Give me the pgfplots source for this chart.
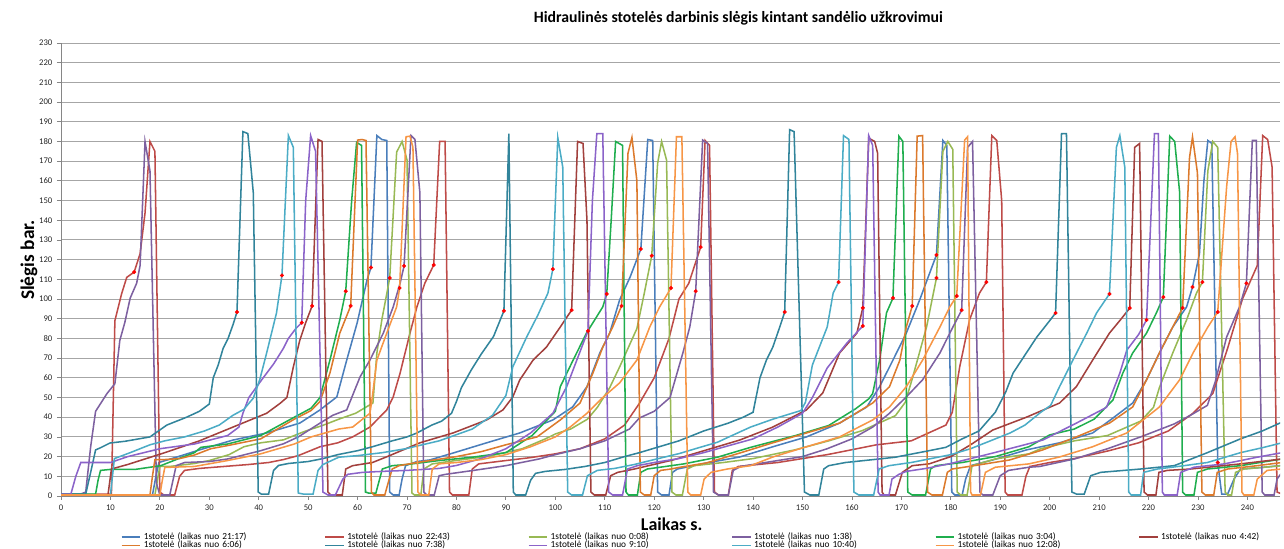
\documentclass[border=0pt]{standalone}
\usepackage{fontspec}
\setmainfont{Carlito}
\usepackage{pgfplots}
\pgfplotsset{compat=1.18}
\definecolor{sA}{HTML}{4A7EBB}
\definecolor{sB}{HTML}{BE4B48}
\definecolor{sC}{HTML}{98B954}
\definecolor{sD}{HTML}{7D60A0}
\definecolor{sE}{HTML}{1FAE4E}
\definecolor{sF}{HTML}{A2403D}
\definecolor{sG}{HTML}{DC7A2C}
\definecolor{sH}{HTML}{31849B}
\definecolor{sI}{HTML}{8B63C9}
\definecolor{sJ}{HTML}{4BACC6}
\definecolor{sK}{HTML}{F79646}
\definecolor{gridc}{HTML}{A6A6A6}
\definecolor{axc}{HTML}{868686}
\begin{document}
\begin{tikzpicture}
\path[use as bounding box] (-45.75pt,-39.75pt) rectangle (917.25pt,372pt);
\begin{axis}[
  at={(0,0)}, anchor=south west,
  scale only axis, width=914.25pt, height=339.75pt,
  xmin=0, xmax=246.6, ymin=0, ymax=230,
  xtick={0,10,...,240}, ytick={0,10,...,230},
  axis x line=bottom, axis y line=left,
  axis line style={-, draw=axc, line width=0.7pt},
  ymajorgrids, grid style={draw=gridc, line width=0.7pt},
  tick align=outside, major tick length=3pt,
  tick style={draw=axc, line width=0.6pt},
  ticklabel style={font=\fontsize{6.5}{7}\selectfont, text=black!85},
  /pgf/number format/assume math mode=true,
  legend columns=6,
  legend cell align=left,
  legend image code/.code={\draw[#1, line width=1.1pt] (0pt,0pt) -- (14pt,0pt);},
  legend style={at={(0.049,-0.079)}, anchor=north west, draw=none, fill=none,
    inner sep=0pt, font=\fontsize{7}{7}\selectfont, row sep=-1.2pt,
    nodes={text width=135pt, inner sep=0.5pt, text height=5pt, text depth=1.5pt},
    /tikz/every odd column/.append style={column sep=1.5pt}},
  legend entries={1stotelė (laikas nuo 21:17),1stotelė (laikas nuo 22:43),1stotelė (laikas nuo 0:08),1stotelė (laikas nuo 1:38),1stotelė (laikas nuo 3:04),1stotelė (laikas nuo 4:42),1stotelė (laikas nuo 6:06),1stotelė (laikas nuo 7:38),1stotelė (laikas nuo 9:10),1stotelė (laikas nuo 10:40),1stotelė (laikas nuo 12:08)},
  every axis plot/.append style={line width=1.15pt, mark=none},
]
% 21:17 blue
\addplot[sA] coordinates {(0,0.5)(18.5,0.5)(19.2,10)(19.8,17)(25,21)(28,23.4)(34.8,28.4)(41.6,32)(48.3,37)(52.4,43.7)(55.8,50.3)(57.8,69)(59.9,87.8)(61.9,109.6)(62.7,116)(63.9,183)(64.9,181)(65.9,180.5)(66.5,2)(67.2,0.5)(68.4,0.5)(69,8.6)(69.7,15.4)(72,17.5)(74.6,18.3)(79.3,21.8)(86.1,27)(92.8,32)(99.5,38.6)(103.5,45.2)(106.4,55.5)(109,72.6)(111,82.7)(113,99.5)(115.1,111)(117.3,125.4)(118.7,181)(119.7,180.5)(120.7,2)(121.5,0.5)(123,0.5)(123.7,12)(124.7,13.7)(130.6,16.8)(137.3,19.8)(144,25)(150.8,30)(157.5,37)(163,45.2)(165.6,55.5)(168.3,69)(171,82.7)(173.7,99.5)(175.7,113)(177.1,122.4)(178.4,180.5)(179.2,178)(180.2,2)(180.8,0.5)(182.3,0.5)(183,8.6)(184,15.4)(188.5,18.3)(195.3,23.4)(202,27)(208.7,32)(212.5,39)(216.8,47.2)(219.6,59)(222.2,72.6)(224.9,85.8)(227.7,96)(228.9,106.1)(230.3,123)(231.2,160)(232,180.5)(232.8,179)(234,17)(234.8,1)(236,1)(237.3,8.6)(238.6,13.7)(243,14.5)(247,15.5)};
% 22:43 red
\addplot[sB] coordinates {(0,0.5)(9.5,1)(10.2,1)(10.9,89)(12.3,103)(13.3,111)(14.8,113.7)(16,123)(17,143.7)(18,180)(19,175)(20,2)(20.8,0.5)(23,0.5)(24,10)(25,13)(28,14)(33,15)(38,16)(42,17)(45,18.5)(48,20.5)(52.4,25)(56,27)(59,30)(62.5,35)(65.9,43.7)(67.2,50.3)(68.6,62.4)(69.6,72.6)(70.6,82.7)(72,96)(73.6,108)(75.4,117.3)(76.6,180)(77.7,180)(78.6,2)(79.2,0.5)(82.5,0.5)(83.2,13.7)(84.5,16.3)(90,18)(95,19.5)(100,21.4)(105,24)(110,29)(114,36)(117,47)(120,60)(123,80)(125,100)(127,108)(129.4,126.4)(130.3,180.5)(131.2,178)(132.2,2)(133,0.5)(135,0.5)(135.8,13)(137,15)(145,17)(150,19)(155,21)(160,23.5)(165,26)(172,28)(179,36)(180.3,42.5)(181.8,65.5)(183.8,89.4)(185.8,103)(187.2,108.6)(188.3,183)(189.3,180.5)(190.3,150)(191,2)(191.5,0.5)(194.4,0.5)(195.2,10)(196,15)(200,17)(205,19)(212,23)(218,27)(224,33)(229,42)(233,52)(236,75)(239,100)(242,117)(243.1,183)(244.1,181)(245,167)(246,2)(247,1)};
% 0:08 light green
\addplot[sC] coordinates {(0,0.5)(19,0.5)(19.5,8)(20,15)(22,15)(27,16.5)(30,18)(34,21)(37,25)(40.4,27)(45,28.5)(49.5,33)(52.9,35.8)(56.2,39)(59.6,42)(63.1,47.2)(63.9,72.6)(64.9,89.4)(66.5,110.7)(67.9,174.6)(69,180)(70,170.6)(71,1.5)(71.5,0.5)(72.8,0.5)(73.4,13.7)(75.1,16.3)(79.8,18)(86.6,20.2)(93.3,24)(98,29)(100,31.5)(103.1,34)(106.5,39)(108.5,45)(111,55)(113,65.5)(116.5,85)(118,103)(119.5,122)(120.7,169)(121.5,180)(122.5,170.6)(123.6,2)(124.4,0.5)(125.7,0.5)(126.7,13.7)(128.1,15.4)(134,17)(140,19)(148.6,23.5)(155.3,28)(162.1,33.2)(168.8,40.8)(170.8,47.6)(172.2,59.5)(175.1,85.8)(177.1,110.7)(178.4,175)(179.4,180)(180.4,176)(181.3,2)(182,0.5)(183.3,0.5)(184.3,15.4)(189,18.8)(195.8,21.4)(198.2,24)(205,28)(211.7,30.7)(218.4,38)(221,45)(222.2,55)(224.9,72.6)(227.7,89.4)(229.7,103)(230.9,108.6)(232,165)(233,180)(234,177)(235.5,2)(236,0.5)(236.8,0.5)(237.6,12)(239.3,13.7)(247,15.4)};
% 1:38 purple
\addplot[sD] coordinates {(0,1)(4,1)(5,2)(6,25)(7,43)(9.3,52)(10.9,57)(11.9,79)(12.9,88)(14,100.5)(15.3,108)(16,117)(17,180)(18,165)(19.3,6.6)(20,0.5)(22,0.5)(23.3,15.4)(25,17)(30,17.5)(33.7,18.8)(40.4,23)(45,26.5)(48,30)(52.4,37)(55,41)(57.8,43.7)(60.5,60.5)(62.5,69)(65.2,82.7)(67.2,96)(68.6,108)(69.4,116.8)(70.8,183)(71.6,181)(72.6,154)(73.4,2)(74,0.5)(75.5,0.5)(76.5,10.3)(77.8,11)(83.2,12.9)(90,15.4)(96.7,18.8)(100,21)(105,24)(110,28)(115,34)(117,39.6)(120,43)(123.2,50)(125.8,72.6)(127.2,85.8)(128.4,104)(129.8,180.7)(130.8,179)(132,2)(133,0.5)(135,0.5)(136,13)(137.5,15)(140,16)(145,18)(150,20)(155,24)(160,29)(164.2,35)(167.6,42)(171,50.3)(174.3,59)(177.8,72.6)(179.8,82.7)(182.2,94.4)(183.4,177)(184.4,180)(185.9,2)(186.5,0.5)(188.5,0.5)(190,10.3)(191.7,13)(195.8,14.6)(198,15)(205,18.8)(211.7,24)(218.4,30)(225.2,36.6)(228.5,41)(231.9,46)(233.5,58)(235.8,80.7)(238.4,96)(239.8,108)(241,180.5)(241.8,180.5)(243,2)(243.5,0.5)(245.4,0.5)(246,8.6)(247,12)};
% 3:04 green
\addplot[sE] coordinates {(0,1)(7,1)(7.5,8)(8,13)(10,13.5)(15,13.5)(20.2,15.4)(23.6,18.8)(27,22)(28.3,24.7)(33.7,26.4)(40.4,30.7)(47.2,40)(50.6,44.6)(52.4,50)(54.4,69)(56.4,89.4)(57.6,104)(58.8,150)(59.8,179.5)(60.8,178)(61.6,2)(62.2,1.5)(63.7,1.5)(65,13.7)(67,15.4)(70,16)(76.5,18)(83.2,19.7)(90,22)(95.3,30.7)(100,43)(101,55.5)(103.6,69)(106.3,82.7)(109.6,96)(110.4,102.6)(111.3,140)(112.2,180)(113.6,178)(114.3,2)(114.8,0.5)(116.6,0.5)(117.3,12)(118.6,13.7)(126,16.3)(132.8,19.7)(139.5,24.7)(148.6,30.7)(155.3,35.8)(160.7,44.2)(163.4,49.3)(164.2,52)(165.6,69)(167,93)(168.3,100.5)(169.5,182.7)(170.3,180)(171.3,2)(172.2,0.5)(174.9,0.5)(175.9,13.7)(176.9,15.4)(182.3,17)(189,20)(195.8,25)(200,31)(205,34)(209,39)(212.8,48.7)(214.8,62.4)(216.8,72.6)(219.6,82.7)(221.6,93)(223,101)(224.3,182.7)(225.3,180)(226.3,154)(226.9,2)(227.5,0.5)(229.2,0.5)(229.9,12)(231.9,13.7)(238.6,15.4)(247,18.8)};
% 4:42 dark red
\addplot[sF] coordinates {(0,0.5)(9.5,0.5)(10.2,13.7)(13.5,16)(21,22)(28,28)(34.8,35)(41.6,42)(44.3,47)(45.7,50)(47,65.5)(48.3,79)(49.5,88)(50.8,96.5)(52,181)(52.8,180)(54,2)(54.6,0.5)(56.9,0.5)(57.6,13.7)(59,15.4)(63,17)(66,20)(72.6,27)(79.3,32)(86.1,38.6)(89.4,43.7)(91.4,50.3)(92.8,58.9)(95.5,69)(98.2,75.6)(101,85.8)(103.3,94.4)(104.5,180)(105.6,179)(106.4,140)(107.2,2)(107.9,0.5)(110.2,0.5)(111.2,10.3)(112.6,12)(116,13.7)(123.8,18.3)(130.6,23.4)(137.3,28.4)(144,35)(150.8,43.7)(154.1,52.3)(157.5,72.6)(161,82.7)(162.2,95.5)(163.4,181.7)(164.6,180)(165.2,174)(166.1,2)(166.5,0.5)(168.8,0.5)(170.2,12)(172.2,15.4)(175.6,16.3)(180,20)(184,26)(188.5,33.5)(195.3,40)(202,47.2)(205.4,55.5)(208.7,69)(212.1,82.7)(214.5,90)(216.2,95.4)(217.2,177)(218.2,179)(219.1,2)(219.8,0.5)(221.5,0.5)(222.1,12)(223.8,13)(228.5,13.7)(238.6,16.3)(247,18.8)};
% 6:06 dark orange
\addplot[sG] coordinates {(0,0.5)(18,0.5)(18.5,10)(19,18.5)(21,18.5)(24,19)(27,20.8)(30.3,24)(33.7,25.6)(40.4,29)(47.2,39)(50.6,43.4)(52.4,48)(54.4,62.4)(56.4,82.7)(58.6,96.5)(60,180.7)(60.9,181)(61.7,180.5)(62.8,2)(63.3,0.5)(65.5,0.5)(66.4,8.6)(67,13.7)(68.4,15.4)(72,17)(76,18.5)(80,20)(85,22.5)(90,26)(96.3,30)(101,38.6)(105,47.2)(107.6,62.4)(109.6,75.6)(111.6,85.8)(113.4,96.5)(114.7,174)(115.5,182)(116.5,160)(117.2,2)(118,0.5)(119.3,0.5)(120,10.3)(121.3,13)(123.4,13.7)(125,14.5)(130.6,16.8)(137.3,21.8)(144,27)(150.8,32)(157.5,37)(164.2,47.2)(167.6,55.5)(169.7,69)(171,85.8)(172.2,96.5)(173.2,182.7)(174.3,183)(175.3,2)(176.2,0.5)(178.3,0.5)(179.3,12)(180.3,13.7)(185,15.5)(191.9,18.3)(198.6,23.4)(205.4,30)(212.1,37)(216.8,45.2)(219.6,59)(222.2,72.6)(224.9,85.8)(226.9,95.5)(228.3,172)(228.9,182.3)(229.9,164)(230.8,2)(231.5,0.5)(233.2,0.5)(233.9,12)(236,13.7)(242,15.4)(247,17)};
% 7:38 teal
\addplot[sH] coordinates {(0,1)(5,1)(6,12)(7,23.4)(8,24.5)(9.9,26.9)(13,27.8)(18,30)(21.4,36)(25.4,40)(28,43)(30,46.7)(30.8,60)(31.8,66.5)(32.8,75)(33.8,80)(34.8,87)(35.6,93.4)(36.8,185)(37.8,184)(38.9,154)(39.9,2)(40.5,1)(42,1)(43,13)(44,15.5)(46,16.5)(50,17.5)(53,19)(56,21)(60,23)(63,25)(67,28)(70,30)(72,32)(75,36)(77,38)(79,42)(80,48)(81,55)(83,64)(85,72)(87.5,81)(89.6,94)(90.6,184)(91.5,2)(92,0.5)(94,0.5)(95,8)(96,11.5)(98,12.5)(102,13.5)(106,15)(110,17)(114,20)(117,22)(121,25)(125,28)(130,33)(135,37)(138,40)(140,42.5)(140.6,50)(141.4,60)(142.7,69)(144,75.6)(145.4,85.8)(146.4,93.4)(147.4,186)(148.3,185)(150.4,2)(151.5,0.5)(153.3,0.5)(154.3,13.7)(155.3,15.4)(158.7,17)(165.5,18.8)(168.8,19.7)(175.6,23)(179,24.7)(182.3,29)(185.7,33)(189,42.5)(191.1,52.7)(192.6,62.4)(197.4,80.7)(200,89)(201.2,92.9)(202.4,184)(203.4,184)(204.5,2)(205.4,1)(207,1)(208.3,10.3)(210.3,12)(218.4,13.7)(225.2,15.4)(231.9,22)(238.6,29)(243,33)(247,37.5)};
% 9:10 violet
\addplot[sI] coordinates {(0,1)(2,1)(3,10)(4,17)(10,17)(13.5,20)(20,24)(27,26.4)(33.7,30.7)(36,35)(36.8,42)(38,50)(40.9,60)(43,67)(45,75)(46,80)(47.5,85)(48.7,88)(49.5,150)(50.5,183)(51.5,175)(53,2)(54,0.5)(55.5,0.5)(57,8.5)(58,11)(61,12)(65,12.5)(70,13)(76.5,14)(80,15.5)(85,19)(90,24)(95,32)(99.5,42)(102.3,55.5)(104.5,70)(106.6,83.8)(107.5,150)(108.4,184)(109.6,184)(110.8,2)(111.6,0.5)(113.6,0.5)(114.6,13.7)(116.6,15.4)(120,17)(125,19)(130,22)(135,25.5)(140,29)(145,35)(150,42)(152,50)(155,65)(159,77.7)(162.2,86.3)(163.4,183)(164.2,178)(165.3,2)(165.7,0.5)(167.5,0.5)(168.1,8.6)(169.5,11)(171,12.5)(175,14)(180,16.5)(188.5,21.8)(198.6,28.4)(205.4,37)(211.5,45)(214.2,62.4)(215.6,74)(218,82)(219.6,89.4)(221.2,184)(222,184)(222.8,2)(223.2,0.5)(225.8,0.5)(226.5,12)(229.2,14.6)(235.3,16.3)(242,19.7)(247,22)};
% 10:40 light blue
\addplot[sJ] coordinates {(0,0.5)(10,0.5)(10.8,19)(14,22)(18,26)(21,28)(25,30)(29,33)(32,36)(34.8,41)(37,44)(38.9,49.7)(40.2,59)(41.6,72.6)(43.6,93)(44.7,112)(46,183)(47,177)(48,1.5)(49,1)(51,1)(52,13)(53,16)(56.2,19.7)(60,20.5)(65,22)(69.7,24)(76.5,28)(83.2,34)(87.3,41)(90,51)(91.4,65.6)(94.2,80.7)(96.5,92)(98.5,103)(99.5,115.2)(100.5,182)(101.5,167)(102.5,2)(103.3,0.5)(105.5,0.5)(106.5,10.3)(108.5,13)(112,14)(116,16)(120,18.5)(125,21.5)(129,24.5)(132.8,27.3)(136,31)(139.5,35)(144,39)(149.7,43.4)(150.6,47.6)(152,66.5)(155,85.8)(156.2,103)(157.3,108.6)(158.3,183)(159.4,181)(160.4,2)(161.4,0.5)(164.4,0.5)(165.5,13.7)(167.5,15.4)(172,17)(176,19)(180,21)(184,24)(188,28)(192,32)(195,36)(198.2,42.5)(200.2,46)(202,55.5)(204.5,68)(207.5,82.7)(209.5,93)(212.1,102.6)(213.5,177)(214.2,183)(215.2,167)(216,2)(216.5,0.5)(218.4,0.5)(219,12)(221.8,13.7)(226,15)(231.9,17)(238.6,22)(243,24.5)(247,27)};
% 12:08 orange
\addplot[sK] coordinates {(0,0.5)(20,0.5)(20.5,8)(21,14.5)(27,15)(33.7,18)(40.4,21.4)(47.2,26.4)(50.6,30)(56.2,34)(59,35)(62.5,42)(62.9,48.7)(63.9,69)(65.9,82.7)(67.9,96)(68.5,105.6)(69.8,182.4)(70.6,182.7)(71.2,177)(72.2,2)(72.8,0.5)(74.4,0.5)(75.1,13.7)(76.5,16.3)(80,17)(85,18.5)(90,21)(95,25)(100,30)(103,35)(106.4,42)(109.6,50)(113,57.4)(116.5,69)(119.1,85.8)(121.1,96)(123.4,105.6)(124.5,182.4)(125.6,182.4)(126.8,2)(127.4,0.5)(129.4,0.5)(130.1,8.6)(131.5,12)(134.8,13.7)(139.5,15.4)(144,19.8)(150.8,25)(157.5,30)(164.2,38.6)(167.6,45.2)(171,55.5)(174.3,69)(177.8,85.8)(179.8,96)(181.2,101.5)(182.8,180.7)(183.4,182.4)(184,2)(184.3,0.5)(186,0.5)(187,12)(189,14.6)(195.8,16.3)(202,19.8)(208.7,25)(215.6,32)(222.2,45.2)(226.3,59)(229,72.6)(232,85.8)(234,93.4)(235.8,157)(236.7,180)(237.5,182.4)(238,174)(238.9,2)(239.3,0.5)(241.3,0.5)(242,8.6)(244,13)(247,13.7)};
% red markers
\addplot[forget plot, only marks, mark=*, mark size=1.3pt, color=red, line width=0.4pt] coordinates {(14.8,113.7)(35.6,93.4)(44.7,112)(48.7,88)(50.8,96.5)(57.6,104)(58.6,96.5)(62.7,116)(66.5,110.7)(68.5,105.6)(69.4,116.8)(75.4,117.3)(89.6,94)(99.5,115.2)(103.3,94.4)(106.6,83.8)(110.4,102.6)(113.4,96.5)(117.3,125.4)(119.5,122)(123.4,105.6)(128.4,104)(129.4,126.4)(146.4,93.4)(157.3,108.6)(162.2,86.3)(162.2,95.5)(168.3,100.5)(172.2,96.5)(177.1,122.4)(177.1,110.7)(181.2,101.5)(182.2,94.4)(187.2,108.6)(201.2,92.9)(212.1,102.6)(216.2,95.4)(219.6,89.4)(223,101)(226.9,95.5)(228.9,106.1)(230.9,108.6)(234,93.4)(239.8,108)(234,17)};
\end{axis}
\node[font=\fontsize{11.8}{12}\selectfont\bfseries] at (508pt,358.5pt) {Hidraulinės stotelės darbinis slėgis kintant sandėlio užkrovimui};
\node[font=\fontsize{14.5}{15}\selectfont\bfseries, rotate=90] at (-24pt,177pt) {Slėgis bar.};
\node[font=\fontsize{13.5}{14}\selectfont\bfseries] at (458pt,-21.5pt) {Laikas s.};
\end{tikzpicture}
\end{document}
